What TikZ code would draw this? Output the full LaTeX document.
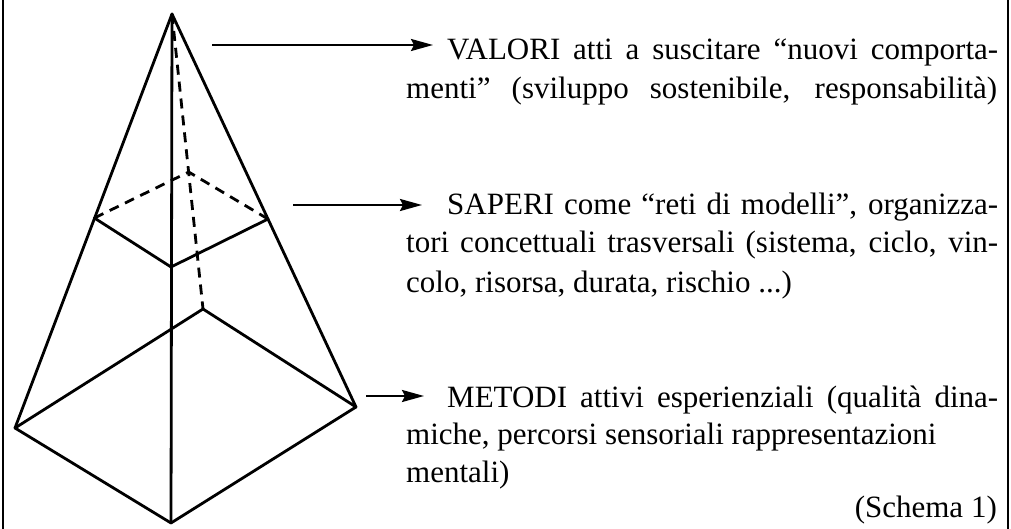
\documentclass[tikz,border=0pt]{standalone}
\usepackage{fontspec}
\setmainfont{Liberation Serif}
\usetikzlibrary{arrows.meta}
\begin{document}
\begin{tikzpicture}[x=1pt,y=-1pt,
  edge/.style={line width=2.8pt,line join=round,line cap=round},
  hidden/.style={edge,line cap=butt,dash pattern=on 10pt off 7pt},
  pointer/.style={line width=2.3pt,-{Stealth[length=22pt,width=12pt,inset=3pt]}},
  frameline/.style={line width=1.3pt},
  txt/.style={anchor=base west,inner sep=0pt,font=\fontsize{31}{38.5}\selectfont}]
\useasboundingbox (0,0) rectangle (1011,529);
% frame
\coordinate (fl1) at (3,0); \coordinate (fl2) at (3,529);
\coordinate (fr1) at (1008,0); \coordinate (fr2) at (1008,529);
\draw[frameline] (fl1) -- (fl2);
\draw[frameline] (fr1) -- (fr2);
% pyramid vertices
\coordinate (A) at (172,14);
\coordinate (BL) at (15,428);
\coordinate (BF) at (171,523);
\coordinate (BR) at (356,407);
\coordinate (BB) at (203,309);
\coordinate (ML) at (94.4,218);
\coordinate (MF) at (171,267);
\coordinate (MR) at (268,219);
\coordinate (MB) at (188.7,172);
% edges
\draw[edge] (A) -- (BL);
\draw[edge] (A) -- (BR);
\draw[edge] (A) -- (BF);
\draw[hidden] (A) -- (BB);
\draw[edge] (BL) -- (BF) -- (BR) -- (BB) -- cycle;
\draw[edge] (ML) -- (MF) -- (MR);
\draw[hidden] (ML) -- (MB) -- (MR);
% arrows
\coordinate (a1s) at (212,45); \coordinate (a1e) at (433,45);
\coordinate (a2s) at (293,205); \coordinate (a2e) at (422,205);
\coordinate (a3s) at (366,396); \coordinate (a3e) at (424,396);
\draw[pointer] (a1s) -- (a1e);
\draw[pointer] (a2s) -- (a2e);
\draw[pointer] (a3s) -- (a3e);
% texts
\node[txt] (v1) at (447,60) {\makebox[551pt][s]{VALORI atti a suscitare “nuovi comporta-}};
\node[txt] (v2) at (406,99) {\makebox[591pt][s]{menti” (sviluppo sostenibile, responsabilità)}};
\node[txt] (s1) at (447,215) {\makebox[551pt][s]{SAPERI come “reti di modelli”, organizza-}};
\node[txt] (s2) at (406,253) {\makebox[592pt][s]{tori concettuali trasversali (sistema, ciclo, vin-}};
\node[txt] (s3) at (406,292) {colo, risorsa, durata, rischio ...)};
\node[txt] (m1) at (447,407) {\makebox[551pt][s]{METODI attivi esperienziali (qualità dina-}};
\node[txt] (m2) at (406,444) {miche, percorsi sensoriali rappresentazioni};
\node[txt] (m3) at (406,482) {mentali)};
\node[txt,anchor=base east] (sc) at (997,517) {(Schema 1)};
\end{tikzpicture}
\end{document}
